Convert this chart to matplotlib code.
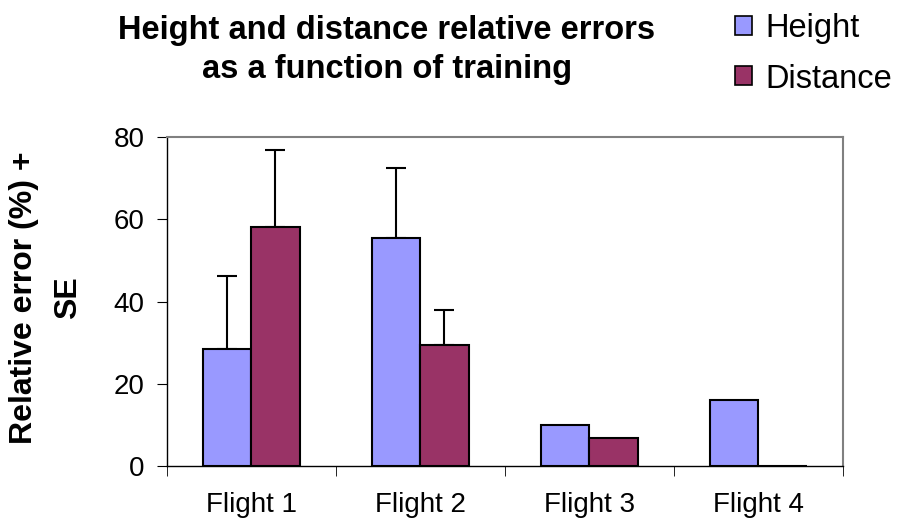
import matplotlib
matplotlib.use("Agg")
import matplotlib.pyplot as plt
import numpy as np
from matplotlib.patches import Patch

plt.rcParams['font.family'] = ['Liberation Sans', 'DejaVu Sans']

categories = ["Flight 1", "Flight 2", "Flight 3", "Flight 4"]
height_vals = [28.5, 55.6, 9.9, 16.1]
height_se = [17.8, 17.0, 0.0, 0.0]
distance_vals = [58.1, 29.5, 6.7, 0.0]
distance_se = [18.7, 8.5, 0.0, 0.0]
yticks = [0, 20, 40, 60, 80]

c_height = "#9999FF"
c_dist = "#993366"

fig = plt.figure(figsize=(8.98, 5.18), dpi=100)
ax = fig.add_axes([0.1856, 0.1004, 0.7528, 0.6346])

x = np.arange(len(categories))
w = 0.286
ax.bar(x - w/2, height_vals, w, color=c_height, edgecolor='black', linewidth=1.5, zorder=2)
ax.bar(x + w/2, distance_vals, w, color=c_dist, edgecolor='black', linewidth=1.5, zorder=2)

for xi, v, e in zip(x - w/2, height_vals, height_se):
    if e > 0:
        ax.errorbar(xi, v, yerr=[[0], [e]], fmt='none', ecolor='black', elinewidth=1.5, capsize=7, capthick=1.5, zorder=1)
for xi, v, e in zip(x + w/2, distance_vals, distance_se):
    if e > 0:
        ax.errorbar(xi, v, yerr=[[0], [e]], fmt='none', ecolor='black', elinewidth=1.5, capsize=7, capthick=1.5, zorder=1)

ax.set_xlim(-0.5, len(categories) - 0.5)
ax.set_ylim(0, 80)
ax.set_yticks(yticks)
ax.set_yticklabels([str(t) for t in yticks], fontsize=20)
ax.set_xticks(x)
ax.set_xticklabels(categories, fontsize=20)
ax.tick_params(axis='x', length=0, pad=19)
ax.set_xticks(np.arange(len(categories) + 1) - 0.5, minor=True)
ax.tick_params(axis='x', which='minor', length=7, direction='out', color='black')
ax.tick_params(axis='y', length=7, direction='out', pad=9)

for s in ['left', 'bottom']:
    ax.spines[s].set_color('black')
    ax.spines[s].set_linewidth(1.0)
for s in ['top', 'right']:
    ax.spines[s].set_color('#808080')
    ax.spines[s].set_linewidth(1.5)

fig.text(0.0512, 0.425, "Relative error (%) +\nSE", rotation=90, ha='center', va='center',
         fontsize=23, fontweight='bold', linespacing=1.6, multialignment='center')

fig.text(0.431, 0.903, "Height and distance relative errors\nas a function of training",
         ha='center', va='center', fontsize=23.5, fontweight='bold', linespacing=1.35)

handles = [Patch(facecolor=c_height, edgecolor='black', linewidth=1.2, label='Height'),
           Patch(facecolor=c_dist, edgecolor='black', linewidth=1.2, label='Distance')]
fig.legend(handles=handles, loc='upper left', bbox_to_anchor=(0.8185, 0.975), frameon=False,
           fontsize=23.5, handlelength=0.52, handleheight=0.52, handletextpad=0.4,
           labelspacing=0.6, borderpad=0, borderaxespad=0)

fig.savefig("out.png", dpi=100)
